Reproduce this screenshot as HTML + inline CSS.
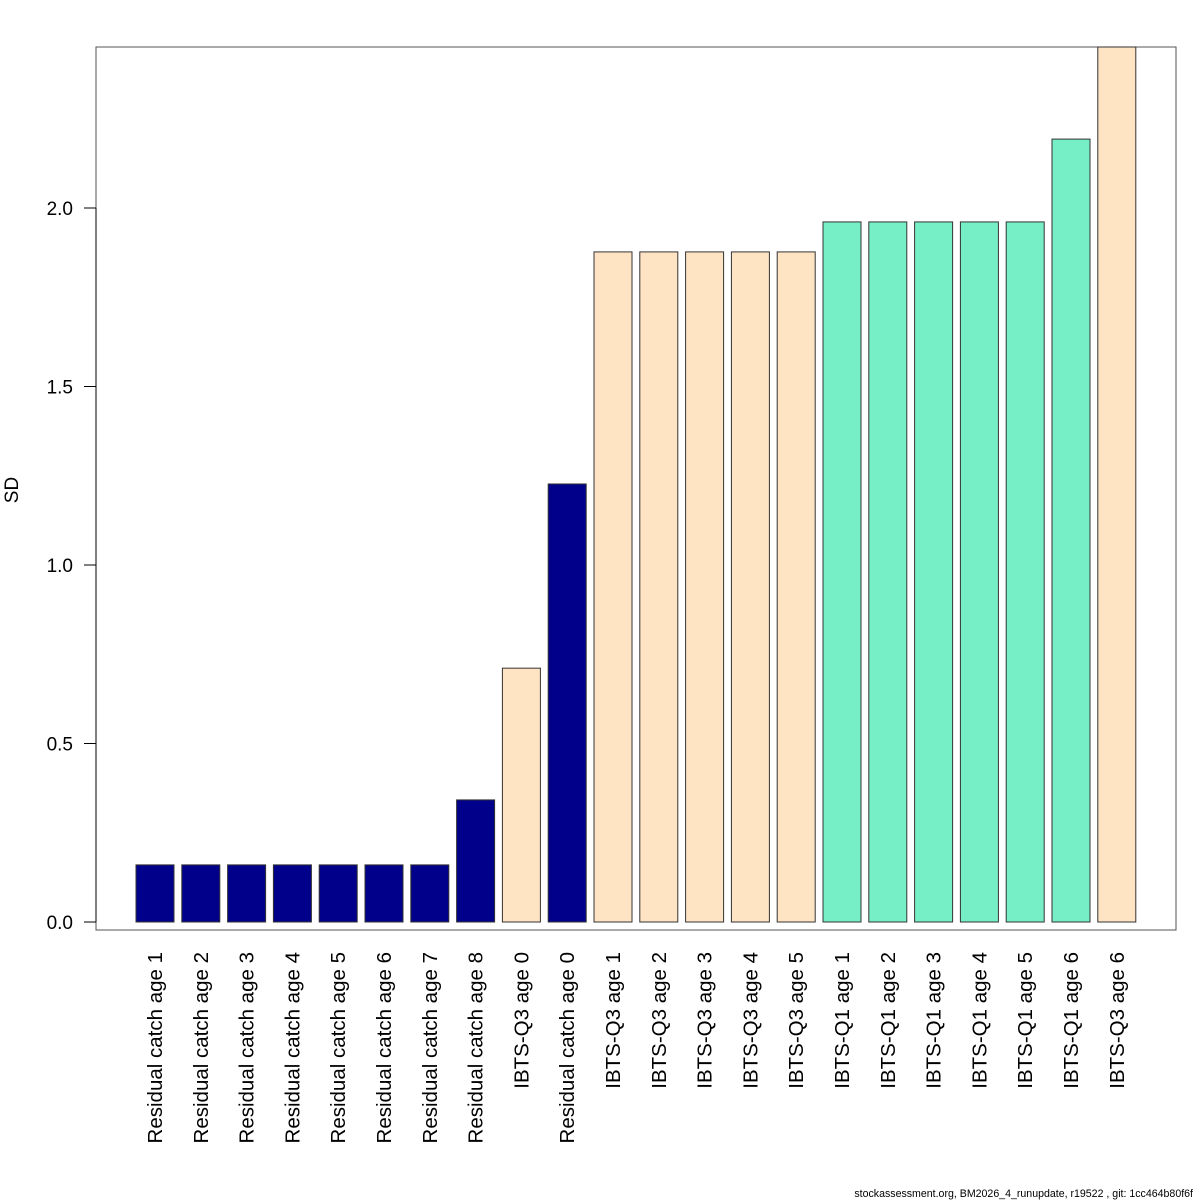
<!DOCTYPE html>
<html><head><meta charset="utf-8"><style>
body{margin:0;background:#fff;}
svg{display:block;font-family:"Liberation Sans",sans-serif;}
</style></head><body>
<svg id="chart" width="1200" height="1200">
<rect x="96" y="47" width="1080" height="883" fill="none" stroke="#555" stroke-width="1"/>
<g id="bars"></g><g id="yaxis"></g><g id="xlabels"></g>
<text x="18" y="490" font-size="19" text-anchor="middle" transform="rotate(-90 18 490)">SD</text>
<text x="1193" y="1197" font-size="10.6" text-anchor="end">stockassessment.org, BM2026_4_runupdate, r19522 , git: 1cc464b80f6f</text>
</svg>
<script>
const categories=["Residual catch age 1","Residual catch age 2","Residual catch age 3","Residual catch age 4","Residual catch age 5","Residual catch age 6","Residual catch age 7","Residual catch age 8","IBTS-Q3 age 0","Residual catch age 0","IBTS-Q3 age 1","IBTS-Q3 age 2","IBTS-Q3 age 3","IBTS-Q3 age 4","IBTS-Q3 age 5","IBTS-Q1 age 1","IBTS-Q1 age 2","IBTS-Q1 age 3","IBTS-Q1 age 4","IBTS-Q1 age 5","IBTS-Q1 age 6","IBTS-Q3 age 6"];
const values=[0.16,0.16,0.16,0.16,0.16,0.16,0.16,0.342,0.711,1.227,1.877,1.877,1.877,1.877,1.877,1.961,1.961,1.961,1.961,1.961,2.193,2.451];
const yTicks=[0,0.5,1.0,1.5,2.0];
const yTickLabels=["0.0","0.5","1.0","1.5","2.0"];
const colorMap={"Residual":"#00008B","IBTS-Q3":"#FFE4C4","IBTS-Q1":"#76EEC6"};
const NS="http://www.w3.org/2000/svg";
const y=v=>922-v*357;
const x=i=>136+i*45.8;
const bw=38;
const gb=document.getElementById('bars'),gy=document.getElementById('yaxis'),gx=document.getElementById('xlabels');
values.forEach((v,i)=>{
 const r=document.createElementNS(NS,'rect');
 
 
 r.setAttribute('x',x(i));r.setAttribute('y',y(v));r.setAttribute('width',bw);r.setAttribute('height',y(0)-y(v));
 const key=categories[i].split(' ')[0];
 r.setAttribute('fill',colorMap[key]);r.setAttribute('stroke','#333');r.setAttribute('stroke-width','1');
 gb.appendChild(r);
 const t=document.createElementNS(NS,'text');
 
 
 const cx=x(i)+bw/2+7;
 t.setAttribute('x',cx);t.setAttribute('y',952);t.setAttribute('font-size','20.5');t.setAttribute('text-anchor','end');
 t.setAttribute('transform','rotate(-90 '+cx+' 952)');
 t.textContent=categories[i];gx.appendChild(t);
});
const ax=document.createElementNS(NS,'line');


ax.setAttribute('x1',96);ax.setAttribute('x2',96);ax.setAttribute('y1',y(0));ax.setAttribute('y2',y(2));ax.setAttribute('stroke','#000');
gy.appendChild(ax);
yTicks.forEach((v,i)=>{
 const l=document.createElementNS(NS,'line');
 
 
 l.setAttribute('x1',84);l.setAttribute('x2',96);l.setAttribute('y1',y(v));l.setAttribute('y2',y(v));l.setAttribute('stroke','#000');
 gy.appendChild(l);
 const t=document.createElementNS(NS,'text');
 
 
 t.setAttribute('x',73);t.setAttribute('y',y(v)+7);t.setAttribute('font-size','19');t.setAttribute('text-anchor','end');
 t.textContent=yTickLabels[i];gy.appendChild(t);
});
</script>
</body></html>
